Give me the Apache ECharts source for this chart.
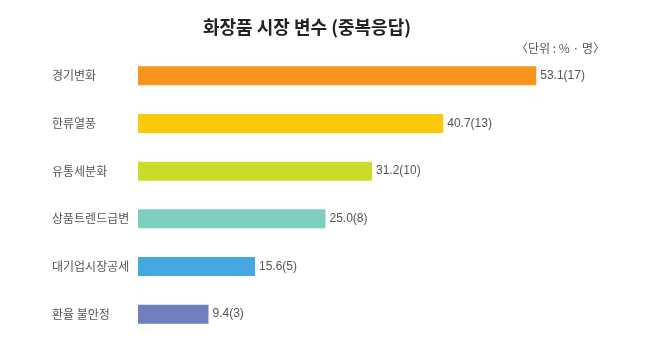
<!DOCTYPE html>
<html>
<head>
<meta charset="utf-8">
<script src="https://cdn.jsdelivr.net/npm/echarts@6/dist/echarts.min.js"></script>
<style>
  html, body { margin: 0; padding: 0; background: #fff; }
  #chart { width: 647px; height: 338px; }
</style>
</head>
<body>
<div id="chart"></div>
<script>
// 화장품 시장 변수 (중복응답) — 비율(%)과 응답 수(명)
const categories = ['경기변화', '한류열풍', '유통세분화', '상품트렌드급변', '대기업시장공세', '환율 불안정'];
const percents = [53.1, 40.7, 31.2, 25.0, 15.6, 9.4];
const counts = [17, 13, 10, 8, 5, 3];
const colors = ['#F7941D', '#FDC70A', '#CBDB2A', '#7ECDBE', '#45A8E0', '#6F7EBD'];

const chart = echarts.init(document.getElementById('chart'), null, { renderer: 'canvas' });

chart.setOption({
  animation: false,
  backgroundColor: '#ffffff',
  title: [
    {
      text: '화장품 시장 변수 (중복응답)',
      left: 302,
      textAlign: 'center',
      top: 13,
      textStyle: { fontFamily: 'Noto Sans CJK KR', fontSize: 18, fontWeight: 'bold', color: '#222' }
    },
    {
      text: '〈단위 : % · 명〉',
      left: 511,
      top: 37,
      textStyle: { fontFamily: 'Noto Sans CJK KR', fontSize: 12, fontWeight: 'normal', color: '#555' }
    }
  ],
  grid: { left: 138, top: 52, width: 450, height: 289, containLabel: false },
  xAxis: {
    type: 'value',
    min: 0,
    max: 60,
    show: false
  },
  yAxis: {
    type: 'category',
    inverse: true,
    data: categories,
    axisLine: { show: false },
    axisTick: { show: false },
    splitLine: { show: false },
    axisLabel: {
      align: 'left',
      margin: 86,
      color: '#555',
      fontSize: 12,
      fontFamily: 'Noto Sans CJK KR'
    }
  },
  series: [{
    type: 'bar',
    barWidth: 19,
    data: percents.map((v, i) => ({ value: v, itemStyle: { color: colors[i] } })),
    label: {
      show: true,
      position: 'right',
      distance: 4,
      color: '#555',
      fontSize: 12,
      fontFamily: 'Liberation Sans',
      formatter: p => percents[p.dataIndex].toFixed(1) + '(' + counts[p.dataIndex] + ')'
    }
  }]
});
</script>
</body>
</html>
